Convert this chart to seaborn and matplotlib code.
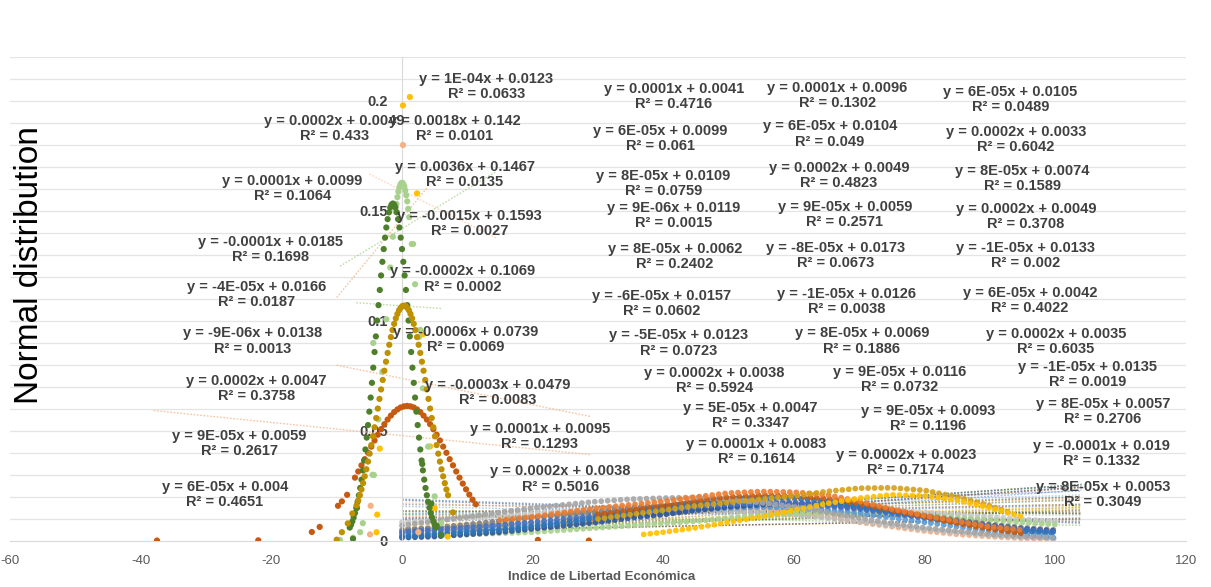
import matplotlib
matplotlib.use("Agg")
import matplotlib.pyplot as plt
import pandas as pd
import seaborn as sns

# ---------------- central distributions (standardised scale) ----------------
dkgreen_x = [-8.0, -7.8, -7.6, -7.4, -7.2, -7.0, -6.8, -6.6, -6.4, -6.2, -6.0, -5.8, -5.6,
             -5.4, -5.2, -5.0, -4.8, -4.6, -4.4, -4.2, -4.0, -3.8, -3.6, -3.4, -3.2, -3.0,
             -2.8, -2.6, -2.4, -2.2, -2.0, -1.8, -1.6, -1.4, -1.2, -1.0, -0.8, -0.6, -0.4,
             -0.2, 0.0, 0.2, 0.4, 0.6, 0.8, 1.0, 1.2, 1.4, 1.6, 1.8, 2.0, 2.2, 2.4, 2.6, 2.8,
             3.0, 3.2, 3.4, 3.6, 3.8, 4.0, 4.2, 4.4, 4.6, 4.8, 5.0, 5.2, 6.0,
             -6.9, 3.1, 5.3, 4.5, -7.5]
dkgreen_y = [0.0061, 0.0074, 0.0089, 0.0107, 0.0127, 0.0151, 0.0178, 0.0208, 0.0241, 0.0279,
             0.0321, 0.0366, 0.0416, 0.0470, 0.0527, 0.0588, 0.0652, 0.0719, 0.0788, 0.0859,
             0.0930, 0.1002, 0.1072, 0.1141, 0.1207, 0.1269, 0.1327, 0.1379, 0.1425, 0.1463,
             0.1494, 0.1516, 0.1529, 0.1534, 0.1529, 0.1516, 0.1494, 0.1463, 0.1425, 0.1379,
             0.1327, 0.1269, 0.1207, 0.1141, 0.1072, 0.1002, 0.0930, 0.0859, 0.0788, 0.0719,
             0.0652, 0.0588, 0.0527, 0.0470, 0.0416, 0.0366, 0.0321, 0.0279, 0.0241, 0.0208,
             0.0178, 0.0151, 0.0127, 0.0107, 0.0089, 0.0074, 0.0061, 0.0027,
             0.0150, 0.0350, 0.0070, 0.0170, 0.0010]

ltgreen_x = [-7.5, -6.0, -4.5, -3.6, -3.0, -2.4, -1.8, -1.4, -1.0, -0.85, -0.7, -0.55, -0.4,
             -0.25, -0.1, 0.05, 0.2, 0.35, 0.5, 0.65, 0.8, 0.95, 1.1, 1.5, 2.0, 2.6, 3.2,
             4.0, 5.0, 6.0, -4.3, -6.4, -9.5, 2.8, -4.4, 1.7]
ltgreen_y = [0.0015, 0.0081, 0.0301, 0.0553, 0.0769, 0.1008, 0.1243, 0.1383, 0.1498, 0.1532,
             0.1563, 0.1588, 0.1607, 0.1620, 0.1627, 0.1628, 0.1623, 0.1612, 0.1594, 0.1572,
             0.1544, 0.1510, 0.1472, 0.1350, 0.1167, 0.0927, 0.0694, 0.0429, 0.0203, 0.0081,
             0.0300, 0.0040, 0.0005, 0.0960, 0.0900, 0.1350]

gold_x = [-6.95, -6.70, -6.45, -6.20, -5.95, -5.70, -5.45, -5.20, -4.95, -4.70, -4.45, -4.20,
          -3.95, -3.70, -3.45, -3.20, -2.95, -2.70, -2.45, -2.20, -1.95, -1.70, -1.45, -1.20,
          -0.95, -0.70, -0.45, -0.20, 0.05, 0.30, 0.55, 0.80, 1.05, 1.30, 1.55, 1.80, 2.05,
          2.30, 2.55, 2.80, 3.05, 3.30, 3.55, 3.80, 4.05, 4.30, 4.55, 4.80, 5.05, 5.30, 5.55,
          5.80, 6.05, 6.30, 6.55, 6.80, 7.05, -8.3, -9.2, -10.0, 7.8, -7.6]
gold_y = [0.0162, 0.0184, 0.0208, 0.0234, 0.0263, 0.0294, 0.0326, 0.0361, 0.0397, 0.0436,
          0.0476, 0.0517, 0.0559, 0.0602, 0.0646, 0.0689, 0.0732, 0.0774, 0.0815, 0.0855,
          0.0892, 0.0927, 0.0959, 0.0987, 0.1012, 0.1032, 0.1049, 0.1060, 0.1068, 0.1070,
          0.1068, 0.1060, 0.1049, 0.1032, 0.1012, 0.0987, 0.0959, 0.0927, 0.0892, 0.0855,
          0.0815, 0.0774, 0.0732, 0.0689, 0.0646, 0.0602, 0.0559, 0.0517, 0.0476, 0.0436,
          0.0397, 0.0361, 0.0326, 0.0294, 0.0263, 0.0234, 0.0208, 0.0080, 0.0040, 0.0006,
          0.0130, 0.0125]

rust_x = [-7.2, -6.7, -6.2, -5.7, -5.2, -4.7, -4.2, -3.7, -3.2, -2.7, -2.2, -1.7, -1.2, -0.7,
          -0.2, 0.3, 0.8, 1.3, 1.8, 2.3, 2.8, 3.3, 3.8, 4.3, 4.8, 5.3, 5.8, 6.3, 6.8, 7.3,
          7.8, 8.3, 8.8, 9.3, 9.8, 10.3, 10.8, 11.3, -8.4, -9.2, -9.8, -12.6, -13.8, -22.0,
          -37.5, 28.6, 20.8]
rust_y = [0.0288, 0.0316, 0.0344, 0.0372, 0.0401, 0.0429, 0.0457, 0.0483, 0.0508, 0.0531,
          0.0552, 0.0570, 0.0586, 0.0598, 0.0607, 0.0612, 0.0614, 0.0612, 0.0607, 0.0598,
          0.0586, 0.0570, 0.0552, 0.0531, 0.0508, 0.0483, 0.0457, 0.0429, 0.0401, 0.0372,
          0.0344, 0.0316, 0.0288, 0.0261, 0.0235, 0.0211, 0.0188, 0.0167, 0.0210, 0.0180,
          0.0160, 0.0064, 0.0041, 0.0003, 0.0002, 0.0002, 0.0005]

yellow_x = [1.2, 0.15, 2.3, 3.2, 4.3, -3.4, -3.8, 5.0, -3.9, 7.0]
yellow_y = [0.2018, 0.1980, 0.1580, 0.0940, 0.0430, 0.0420, 0.0120, 0.0150, 0.0040, 0.0020]

peach_x = [0.15, -4.8, -4.9, -9.8, 2.5]
peach_y = [0.1800, 0.0160, 0.0030, 0.0003, 0.0040]

# ---------------- economic freedom index distributions (0-100) ----------------
ef_x = [0, 5, 10, 15, 20, 25, 30, 35, 40, 45, 50, 55, 60, 65, 70, 75, 80, 85, 90, 95, 100]
ef_lightgray = [0.0085, 0.0095, 0.0105, 0.0115, 0.0125, 0.0135, 0.0145, 0.0155, 0.0160, 0.0165,
                0.0168, 0.0168, 0.0165, 0.0160, 0.0150, 0.0140, 0.0130, 0.0120, 0.0110,
                0.0098, 0.0090]
ef_peach = [0.0040, 0.0050, 0.0060, 0.0070, 0.0080, 0.0095, 0.0110, 0.0125, 0.0135, 0.0145,
            0.0150, 0.0145, 0.0130, 0.0110, 0.0085, 0.0065, 0.0045, 0.0030, 0.0020, 0.0012,
            0.0008]
ef_silver = [0.0030, 0.0040, 0.0050, 0.0060, 0.0075, 0.0090, 0.0105, 0.0120, 0.0130, 0.0135,
             0.0135, 0.0130, 0.0120, 0.0105, 0.0088, 0.0070, 0.0052, 0.0038, 0.0026, 0.0017,
             0.0012]
ef_green = [0.0020, 0.0025, 0.0030, 0.0035, 0.0040, 0.0050, 0.0060, 0.0070, 0.0080, 0.0090,
            0.0105, 0.0115, 0.0125, 0.0130, 0.0130, 0.0125, 0.0115, 0.0105, 0.0095, 0.0085,
            0.0075]
ef_lightblue = [0.0030, 0.0035, 0.0045, 0.0055, 0.0070, 0.0085, 0.0100, 0.0115, 0.0130, 0.0140,
                0.0150, 0.0155, 0.0150, 0.0140, 0.0125, 0.0105, 0.0085, 0.0065, 0.0045, 0.0030,
                0.0015]
ef_darkgray = [0.0050, 0.0060, 0.0075, 0.0090, 0.0105, 0.0120, 0.0135, 0.0150, 0.0160, 0.0170,
               0.0175, 0.0178, 0.0175, 0.0165, 0.0150, 0.0135, 0.0115, 0.0095, 0.0075, 0.0060,
               0.0050]
ef_navy = [0.0015, 0.0020, 0.0030, 0.0040, 0.0055, 0.0070, 0.0085, 0.0105, 0.0120, 0.0140,
           0.0155, 0.0165, 0.0170, 0.0165, 0.0150, 0.0130, 0.0110, 0.0090, 0.0070, 0.0055,
           0.0045]
ef_steel = [0.0040, 0.0050, 0.0060, 0.0072, 0.0085, 0.0100, 0.0115, 0.0130, 0.0145, 0.0158,
            0.0168, 0.0172, 0.0170, 0.0160, 0.0145, 0.0125, 0.0105, 0.0085, 0.0068, 0.0052,
            0.0040]
ef_blue = [0.0020, 0.0030, 0.0040, 0.0050, 0.0065, 0.0085, 0.0105, 0.0130, 0.0155, 0.0175,
           0.0190, 0.0197, 0.0195, 0.0180, 0.0160, 0.0135, 0.0110, 0.0085, 0.0065, 0.0045,
           0.0035]
ef_gray = [0.0070, 0.0090, 0.0110, 0.0130, 0.0150, 0.0165, 0.0180, 0.0190, 0.0195, 0.0198,
           0.0190, 0.0175, 0.0155, 0.0130, 0.0105, 0.0080, 0.0060, 0.0045, 0.0030, 0.0020,
           0.0015]
ef_rust_x = [30, 35, 40, 45, 50, 55, 60, 65, 70, 75, 80, 85, 90, 95]
ef_rust = [0.0120, 0.0140, 0.0160, 0.0182, 0.0200, 0.0208, 0.0205, 0.0192, 0.0170, 0.0140,
           0.0110, 0.0080, 0.0055, 0.0035]
ef_orange_x = [15, 20, 25, 30, 35, 40, 45, 50, 55, 60, 65, 70, 75, 80, 85, 90, 95]
ef_orange = [0.0095, 0.0110, 0.0130, 0.0150, 0.0165, 0.0180, 0.0200, 0.0218, 0.0225, 0.0222,
             0.0210, 0.0180, 0.0145, 0.0115, 0.0090, 0.0065, 0.0050]
ef_ochre_x = [30, 35, 40, 45, 50, 55, 60, 65, 70, 75, 80, 85, 90, 93]
ef_ochre = [0.0100, 0.0120, 0.0140, 0.0160, 0.0175, 0.0190, 0.0205, 0.0225, 0.0240, 0.0242,
            0.0230, 0.0200, 0.0160, 0.0130]
ef_yellow_x = [37, 40, 45, 50, 55, 60, 65, 70, 75, 80, 85, 90, 95]
ef_yellow = [0.0030, 0.0040, 0.0060, 0.0085, 0.0110, 0.0140, 0.0170, 0.0195, 0.0210, 0.0205,
             0.0185, 0.0150, 0.0110]

# ---------------- linear trendlines: y = a x + b ----------------
eq_a = ["1E-04", "0.0002", "0.0018", "0.0036", "0.0001", "-0.0015", "-0.0001", "-0.0002",
        "-4E-05", "-9E-06", "-0.0006", "0.0002", "-0.0003", "9E-05", "0.0001", "6E-05",
        "0.0002", "0.0001", "6E-05", "8E-05", "9E-06", "8E-05", "-6E-05", "-5E-05", "0.0002",
        "5E-05", "0.0001", "0.0001", "6E-05", "0.0002", "9E-05", "-8E-05", "-1E-05", "8E-05",
        "9E-05", "9E-05", "0.0002", "6E-05", "0.0002", "8E-05", "0.0002", "-1E-05", "6E-05",
        "0.0002", "-1E-05", "8E-05", "-0.0001", "8E-05"]
eq_b = ["0.0123", "0.0049", "0.142", "0.1467", "0.0099", "0.1593", "0.0185", "0.1069",
        "0.0166", "0.0138", "0.0739", "0.0047", "0.0479", "0.0059", "0.0095", "0.004",
        "0.0038", "0.0041", "0.0099", "0.0109", "0.0119", "0.0062", "0.0157", "0.0123",
        "0.0038", "0.0047", "0.0083", "0.0096", "0.0104", "0.0049", "0.0059", "0.0173",
        "0.0126", "0.0069", "0.0116", "0.0093", "0.0023", "0.0105", "0.0033", "0.0074",
        "0.0049", "0.0133", "0.0042", "0.0035", "0.0135", "0.0057", "0.019", "0.0053"]
eq_r2 = ["0.0633", "0.433", "0.0101", "0.0135", "0.1064", "0.0027", "0.1698", "0.0002",
         "0.0187", "0.0013", "0.0069", "0.3758", "0.0083", "0.2617", "0.1293", "0.4651",
         "0.5016", "0.4716", "0.061", "0.0759", "0.0015", "0.2402", "0.0602", "0.0723",
         "0.5924", "0.3347", "0.1614", "0.1302", "0.049", "0.4823", "0.2571", "0.0673",
         "0.0038", "0.1886", "0.0732", "0.1196", "0.7174", "0.0489", "0.6042", "0.1589",
         "0.3708", "0.002", "0.4022", "0.6035", "0.0019", "0.2706", "0.1332", "0.3049"]

# label anchor (centre of the two-line block) in data units
lab_x = [12.9, -10.3, 8.1, 9.6, -16.8, 10.3, -20.2, 9.3, -22.2, -22.8, 9.8, -22.3, 14.7,
         -24.9, 21.1, -27.1, 24.2, 41.6, 39.5, 40.0, 41.5, 41.8, 39.8, 42.4, 47.8, 53.3,
         54.2, 66.6, 65.5, 66.9, 67.8, 66.4, 68.0, 70.4, 76.2, 80.5, 77.1, 93.1, 94.0, 94.9,
         95.5, 95.4, 96.1, 100.1, 104.9, 107.3, 107.0, 107.3]
lab_y = [0.2066, 0.1873, 0.1877, 0.1664, 0.1602, 0.1443, 0.1327, 0.1191, 0.1120, 0.0909,
         0.0916, 0.0695, 0.0675, 0.0445, 0.0473, 0.0211, 0.0282, 0.2020, 0.1830, 0.1625,
         0.1480, 0.1293, 0.1080, 0.0900, 0.0730, 0.0570, 0.0407, 0.2025, 0.1850, 0.1661,
         0.1484, 0.1298, 0.1089, 0.0909, 0.0734, 0.0555, 0.0355, 0.2007, 0.1825, 0.1648,
         0.1475, 0.1298, 0.1095, 0.0907, 0.0755, 0.0589, 0.0398, 0.0211]

# trendlines of the central series span their own data range
central_span = {2: (-9.5, 14.5), 3: (-10, 4), 5: (-5, 14.5), 7: (-7, 6),
                10: (-10, 29), 12: (-38, 29)}
central_color = {2: "#A9D18E", 3: "#F4B183", 5: "#F8CBAD", 7: "#A9D18E",
                 10: "#F4B183", 12: "#F4B183"}
trend_cycle = ["#4472C4", "#ED7D31", "#A5A5A5", "#FFC000", "#5B9BD5", "#70AD47",
               "#264478", "#9E480E", "#636363", "#997300", "#255E91", "#43682B",
               "#698ED0", "#F1975A", "#B7B7B7", "#FFCD33", "#7CAFDD", "#8CC168"]

# ---------------- figure ----------------
sns.set_style("white")
plt.rcParams["font.family"] = ["Liberation Sans", "DejaVu Sans"]

W, H = 1211, 587
fig = plt.figure(figsize=(W / 100, H / 100), dpi=100)
ax = fig.add_axes([10 / W, 46 / H, 1176 / W, 484 / H])
ax.set_xlim(-60, 120)
ax.set_ylim(0, 0.22)

# horizontal gridlines every 0.01
for k in range(1, 23):
    ax.axhline(k * 0.01, color="#E4E4E4", lw=0.9, zorder=0)

# trendlines
for i, (a_txt, b_txt) in enumerate(zip(eq_a, eq_b)):
    a, b = float(a_txt), float(b_txt)
    x0, x1 = central_span.get(i, (0, 104))
    col = central_color.get(i, trend_cycle[i % len(trend_cycle)])
    alpha = 0.75 if i in central_span else 0.5
    ax.plot([x0, x1], [a * x0 + b, a * x1 + b], color=col, lw=1.0,
            ls=(0, (1.2, 1.2)), alpha=alpha, zorder=1)

# economic freedom bands
band_specs = [
    ("lightgray", ef_x, ef_lightgray, "#C9C9C9"),
    ("peach", ef_x, ef_peach, "#F4B183"),
    ("silver", ef_x, ef_silver, "#BDBDBD"),
    ("green", ef_x, ef_green, "#A9D18E"),
    ("lightblue", ef_x, ef_lightblue, "#5B9BD5"),
    ("darkgray", ef_x, ef_darkgray, "#7F7F7F"),
    ("navy", ef_x, ef_navy, "#2F5597"),
    ("steel", ef_x, ef_steel, "#4472C4"),
    ("blue", ef_x, ef_blue, "#2E75B6"),
    ("gray", ef_x, ef_gray, "#A5A5A5"),
    ("rust", ef_rust_x, ef_rust, "#C55A11"),
    ("orange", ef_orange_x, ef_orange, "#ED7D31"),
    ("ochre", ef_ochre_x, ef_ochre, "#D4A017"),
    ("yellow", ef_yellow_x, ef_yellow, "#FFC000"),
]
band_df = pd.concat(
    [pd.DataFrame({"x": xs, "y": ys, "series": name}) for name, xs, ys, _ in band_specs],
    ignore_index=True)
band_pal = {name: c for name, _, _, c in band_specs}
sns.lineplot(data=band_df, x="x", y="y", hue="series", palette=band_pal, sort=False,
             estimator=None, lw=4.2, legend=False, ax=ax, zorder=2,
             linestyle=(0, (0.01, 1.1)), dash_capstyle="round", alpha=0.9)

# central distributions
pt_specs = [
    ("peach", peach_x, peach_y, "#F4B183"),
    ("yellow", yellow_x, yellow_y, "#FFC000"),
    ("rust", rust_x, rust_y, "#C55A11"),
    ("ltgreen", ltgreen_x, ltgreen_y, "#A9D18E"),
    ("dkgreen", dkgreen_x, dkgreen_y, "#4E7F2A"),
    ("gold", gold_x, gold_y, "#BF9000"),
]
pt_df = pd.concat(
    [pd.DataFrame({"x": xs, "y": ys, "series": name}) for name, xs, ys, _ in pt_specs],
    ignore_index=True)
pt_pal = {name: c for name, _, _, c in pt_specs}
sns.scatterplot(data=pt_df, x="x", y="y", hue="series", palette=pt_pal, s=20,
                linewidth=0, legend=False, ax=ax, zorder=3)

# equation labels
for i in range(len(eq_a)):
    ax.text(lab_x[i], lab_y[i], f"y = {eq_a[i]}x + {eq_b[i]}\nR² = {eq_r2[i]}",
            ha="center", va="center", multialignment="center", fontsize=10.5,
            fontweight="bold", color="#404040", linespacing=1.1, zorder=4)

# axes styling: vertical axis crosses at x = 0
for side in ("top", "right"):
    ax.spines[side].set_visible(False)
ax.spines["left"].set_position(("data", 0))
ax.spines["left"].set_color("#D9D9D9")
ax.spines["bottom"].set_color("#D9D9D9")
ax.set_yticks([0, 0.05, 0.1, 0.15, 0.2])
ax.set_yticklabels(["0", "0.05", "0.1", "0.15", "0.2"], fontsize=10.5, fontweight="bold",
                   color="#404040")
ax.tick_params(axis="y", length=0, pad=10)
ax.set_xticks(range(-60, 121, 20))
ax.set_xticklabels([str(v) for v in range(-60, 121, 20)], fontsize=9.5, color="#595959")
ax.tick_params(axis="x", length=4, color="#D9D9D9", pad=6)
ax.set_xlabel("")
ax.set_ylabel("")

fig.text(602 / W, 1 - 577 / H, "Indice de Libertad Económica", ha="center", va="center",
         fontsize=9.5, fontweight="bold", color="#595959")
fig.text(30 / W, 1 - 265 / H, "Normal distribution", rotation=90, ha="center",
         va="center", fontsize=24, color="#000000")

fig.savefig("out.png", dpi=100, facecolor="white")
